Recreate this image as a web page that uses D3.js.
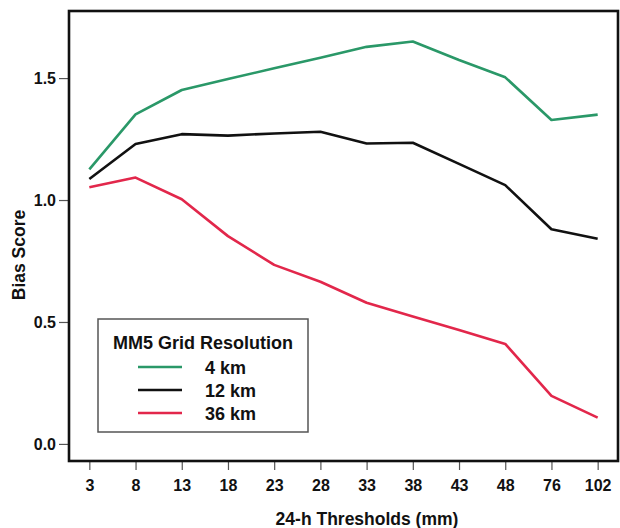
<!DOCTYPE html>
<html>
<head>
<meta charset="utf-8">
<script src="https://cdn.jsdelivr.net/npm/d3@7"></script>
<style>
  html, body { margin: 0; padding: 0; background: #fff; }
  svg { display: block; font-family: "Liberation Sans", Arial, sans-serif; }
</style>
</head>
<body>
<svg id="chart" width="620" height="528"></svg>
<script>
// Precipitation thresholds (mm) on the x axis
const thresholds = ["3", "8", "13", "18", "23", "28", "33", "38", "43", "48", "76", "102"];

// Bias score per grid resolution
const bias4km  = [1.126, 1.351, 1.451, 1.496, 1.540, 1.583, 1.628, 1.650, 1.574, 1.503, 1.328, 1.350];
const bias12km = [1.086, 1.230, 1.270, 1.264, 1.273, 1.280, 1.232, 1.235, 1.148, 1.061, 0.880, 0.841];
const bias36km = [1.052, 1.092, 1.003, 0.852, 0.734, 0.665, 0.579, 0.522, 0.467, 0.410, 0.197, 0.108];

const yTicks = [0.0, 0.5, 1.0, 1.5];

const seriesNames  = ["4 km", "12 km", "36 km"];
const seriesColors = ["#2a9868", "#111111", "#e2274b"];
const seriesValues = [bias4km, bias12km, bias36km];

const svg = d3.select("#chart");
const plot = { left: 69, right: 618, top: 11, bottom: 461 };
const FONT = "Liberation Sans, Arial, sans-serif";

const x = d3.scalePoint()
  .domain(thresholds)
  .range([plot.left, plot.right])
  .padding(0.44);

const y = d3.scaleLinear()
  .domain([-0.070, 1.775])
  .range([plot.bottom, plot.top]);

// Y axis ticks and labels
const yAxis = svg.append("g")
  .attr("transform", `translate(${plot.left - 1},0)`)
  .call(d3.axisLeft(y).tickValues(yTicks).tickFormat(d3.format(".1f")).tickSize(9).tickPadding(3));
yAxis.select(".domain").remove();
yAxis.selectAll(".tick line").attr("stroke", "#555").attr("stroke-width", 1.2);
yAxis.selectAll(".tick text")
  .attr("font-size", 16).attr("font-weight", "bold").attr("fill", "#111")
  .attr("font-family", FONT);

// X axis ticks and labels
const xAxis = svg.append("g")
  .attr("transform", `translate(0,${plot.bottom + 1})`)
  .call(d3.axisBottom(x).tickSize(8).tickPadding(10));
xAxis.select(".domain").remove();
xAxis.selectAll(".tick line").attr("stroke", "#555").attr("stroke-width", 1.2);
xAxis.selectAll(".tick text")
  .attr("font-size", 16).attr("font-weight", "bold").attr("fill", "#111")
  .attr("font-family", FONT);

// Series lines
const line = d3.line()
  .x((d, i) => x(thresholds[i]))
  .y(d => y(d));

seriesValues.forEach((vals, k) => {
  svg.append("path")
    .datum(vals)
    .attr("d", line)
    .attr("fill", "none")
    .attr("stroke", seriesColors[k])
    .attr("stroke-width", 2.6)
    .attr("stroke-linejoin", "round");
});

// Plot frame
svg.append("rect")
  .attr("x", plot.left).attr("y", plot.top)
  .attr("width", plot.right - plot.left).attr("height", plot.bottom - plot.top)
  .attr("fill", "none").attr("stroke", "#111").attr("stroke-width", 2.6);

// Axis titles
svg.append("text")
  .attr("x", 367).attr("y", 525)
  .attr("text-anchor", "middle")
  .attr("font-size", 17.5).attr("font-weight", "bold").attr("fill", "#111")
  .text("24-h Thresholds (mm)");

svg.append("text")
  .attr("transform", "translate(25,255) rotate(-90)")
  .attr("text-anchor", "middle")
  .attr("font-size", 17.5).attr("font-weight", "bold").attr("fill", "#111")
  .text("Bias Score");

// Legend
const legend = svg.append("g");
legend.append("rect")
  .attr("x", 98).attr("y", 319).attr("width", 210).attr("height", 113)
  .attr("fill", "#fff").attr("stroke", "#555").attr("stroke-width", 1.5);
legend.append("text")
  .attr("x", 113).attr("y", 349)
  .attr("font-size", 18).attr("font-weight", "bold").attr("fill", "#111")
  .text("MM5 Grid Resolution");
seriesNames.forEach((name, k) => {
  const ly = 367 + k * 23;
  legend.append("line")
    .attr("x1", 138).attr("x2", 182).attr("y1", ly).attr("y2", ly)
    .attr("stroke", seriesColors[k]).attr("stroke-width", 2.6);
  legend.append("text")
    .attr("x", 205).attr("y", ly + 7)
    .attr("font-size", 18).attr("font-weight", "bold").attr("fill", "#111")
    .text(name);
});
</script>
</body>
</html>
